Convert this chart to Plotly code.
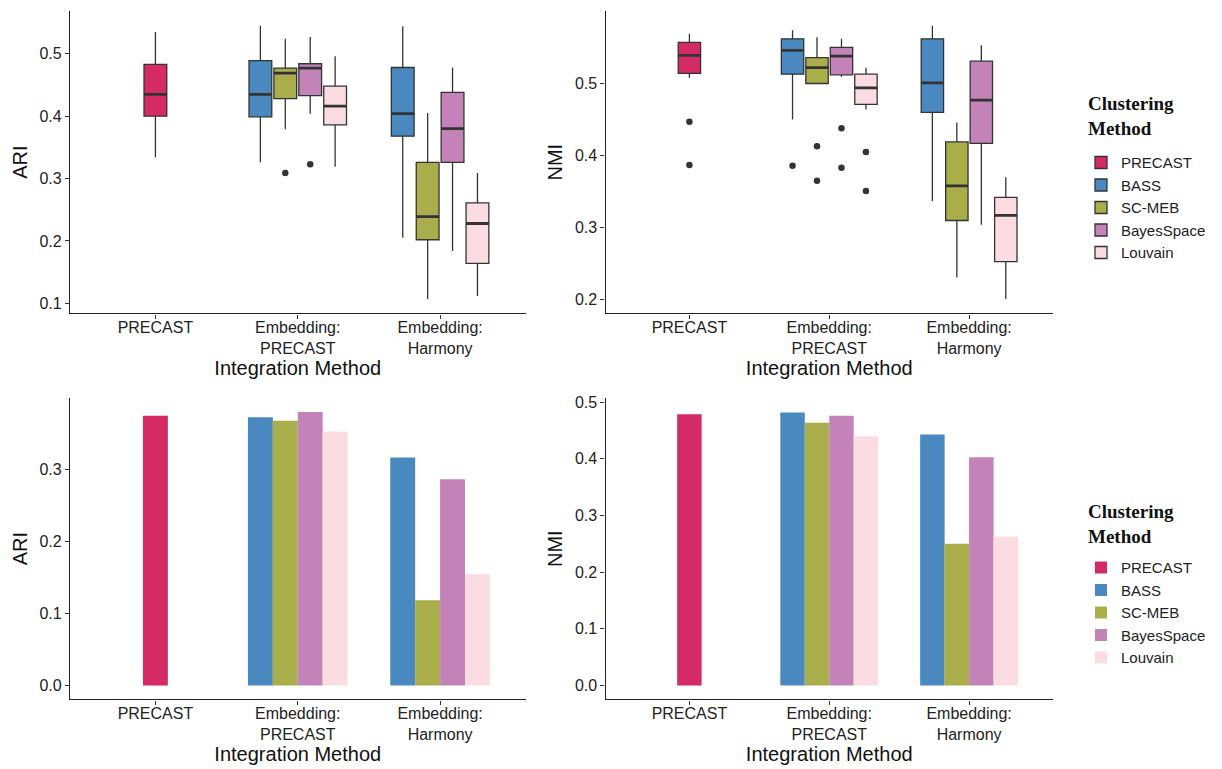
import plotly.graph_objects as go

# Categories on the x axis and the clustering methods
categories = ["PRECAST", "Embedding:<br>PRECAST", "Embedding:<br>Harmony"]
methods = ["PRECAST", "BASS", "SC-MEB", "BayesSpace", "Louvain"]
colors = ["#D42A65", "#4A89BF", "#A9AE4B", "#C383B8", "#FBDDE1"]
dodge = [0.0, -0.2625, -0.0875, 0.0875, 0.2625]

# ARI box statistics per method (one value per category, None = absent)
ari_low = [[0.334, None, None], [None, 0.326, 0.205], [None, 0.379, 0.107],
           [None, 0.404, 0.184], [None, 0.319, 0.112]]
ari_q1 = [[0.400, None, None], [None, 0.399, 0.368], [None, 0.428, 0.202],
          [None, 0.433, 0.326], [None, 0.386, 0.164]]
ari_med = [[0.435, None, None], [None, 0.435, 0.404], [None, 0.469, 0.239],
           [None, 0.477, 0.380], [None, 0.416, 0.228]]
ari_q3 = [[0.483, None, None], [None, 0.489, 0.478], [None, 0.477, 0.326],
          [None, 0.484, 0.438], [None, 0.448, 0.261]]
ari_high = [[0.535, None, None], [None, 0.545, 0.544], [None, 0.524, 0.405],
            [None, 0.527, 0.478], [None, 0.496, 0.309]]
ari_out_method = [2, 3]
ari_out_cat = [1, 1]
ari_out_val = [0.309, 0.323]

# NMI box statistics per method
nmi_low = [[0.508, None, None], [None, 0.450, 0.337], [None, 0.500, 0.231],
           [None, 0.509, 0.304], [None, 0.464, 0.201]]
nmi_q1 = [[0.514, None, None], [None, 0.513, 0.460], [None, 0.500, 0.310],
          [None, 0.512, 0.417], [None, 0.471, 0.253]]
nmi_med = [[0.539, None, None], [None, 0.546, 0.501], [None, 0.522, 0.358],
           [None, 0.538, 0.477], [None, 0.494, 0.317]]
nmi_q3 = [[0.557, None, None], [None, 0.562, 0.562], [None, 0.536, 0.419],
          [None, 0.550, 0.531], [None, 0.513, 0.342]]
nmi_high = [[0.569, None, None], [None, 0.574, 0.580], [None, 0.564, 0.446],
            [None, 0.562, 0.553], [None, 0.522, 0.370]]
nmi_out_method = [0, 0, 1, 2, 2, 3, 3, 4, 4]
nmi_out_cat = [0, 0, 1, 1, 1, 1, 1, 1, 1]
nmi_out_val = [0.447, 0.387, 0.386, 0.413, 0.365, 0.438, 0.383, 0.405, 0.351]

# Mean scores for the bar charts
ari_mean = [[0.374, None, None], [None, 0.372, 0.316], [None, 0.367, 0.118],
            [None, 0.379, 0.286], [None, 0.352, 0.154]]
nmi_mean = [[0.479, None, None], [None, 0.482, 0.443], [None, 0.464, 0.250],
            [None, 0.476, 0.403], [None, 0.440, 0.263]]

legend_title = "Clustering<br>Method"

BOX_W = 0.16
BAR_W = 0.175
DARK = "#333333"

fig = go.Figure()


def add_boxes(low, q1, med, q3, high, om, oc, ov, xa, ya, legend, show):
    for m, name in enumerate(methods):
        idx = [c for c in range(len(categories)) if med[m][c] is not None]
        pos = [c + dodge[m] for c in idx]
        fig.add_trace(go.Box(
            x=pos, q1=[q1[m][c] for c in idx], median=[med[m][c] for c in idx],
            q3=[q3[m][c] for c in idx], lowerfence=[low[m][c] for c in idx],
            upperfence=[high[m][c] for c in idx], width=BOX_W, whiskerwidth=0,
            name=name, fillcolor=colors[m], line=dict(color=DARK, width=1.3),
            boxpoints=False, xaxis=xa, yaxis=ya, legend=legend, showlegend=show,
            legendgroup=name))
    # thick median bars
    mx, my = [], []
    for m in range(len(methods)):
        for c in range(len(categories)):
            if med[m][c] is not None:
                p = c + dodge[m]
                mx += [p - BOX_W / 2, p + BOX_W / 2, None]
                my += [med[m][c], med[m][c], None]
    fig.add_trace(go.Scatter(x=mx, y=my, mode="lines", line=dict(color=DARK, width=2.8),
                             showlegend=False, hoverinfo="skip", xaxis=xa, yaxis=ya))
    fig.add_trace(go.Scatter(x=[c + dodge[m] for m, c in zip(om, oc)], y=ov, mode="markers",
                             marker=dict(color=DARK, size=6.5), showlegend=False,
                             xaxis=xa, yaxis=ya))


def add_bars(vals, xa, ya, legend, show):
    for m, name in enumerate(methods):
        idx = [c for c in range(len(categories)) if vals[m][c] is not None]
        fig.add_trace(go.Bar(
            x=[c + dodge[m] for c in idx], y=[vals[m][c] for c in idx], width=BAR_W,
            name=name, marker=dict(color=colors[m], line=dict(width=0)),
            xaxis=xa, yaxis=ya, legend=legend, showlegend=show))


add_boxes(ari_low, ari_q1, ari_med, ari_q3, ari_high, ari_out_method, ari_out_cat, ari_out_val,
          "x", "y", "legend", True)
add_boxes(nmi_low, nmi_q1, nmi_med, nmi_q3, nmi_high, nmi_out_method, nmi_out_cat, nmi_out_val,
          "x2", "y2", "legend", False)
add_bars(ari_mean, "x3", "y3", "legend2", True)
add_bars(nmi_mean, "x4", "y4", "legend2", False)

W, H = 1222, 769
FONT = "Liberation Sans, Arial, sans-serif"
SERIF = "Liberation Serif, Times New Roman, serif"


def xax(x0, x1, anchor):
    return dict(domain=[x0 / W, x1 / W], range=[-0.6, 2.6], anchor=anchor,
                tickmode="array", tickvals=[0, 1, 2], ticktext=categories,
                showline=True, linecolor="#222", linewidth=1.3, ticks="outside",
                ticklen=4, tickcolor="#333", tickwidth=1.2, showgrid=False, zeroline=False,
                ticklabelstandoff=-5,
                tickfont=dict(family=FONT, size=16, color="#222"),
                title=dict(text="Integration Method", standoff=0,
                           font=dict(family=FONT, size=20, color="#111")))


def yax(top, bottom, rng, ticks, title, anchor):
    return dict(domain=[1 - bottom / H, 1 - top / H], range=rng, anchor=anchor,
                tickmode="array", tickvals=ticks, tickformat=".1f",
                showline=True, linecolor="#222", linewidth=1.3, ticks="outside",
                ticklen=4, tickcolor="#333", tickwidth=1.2, showgrid=False, zeroline=False,
                tickfont=dict(family=FONT, size=16, color="#222"),
                title=dict(text=title, standoff=6,
                           font=dict(family=FONT, size=20, color="#111")))


legend_common = dict(
    xanchor="left", yanchor="top", bgcolor="rgba(0,0,0,0)",
    font=dict(family=FONT, size=15, color="#222"), tracegroupgap=0)

# legend headings
for top in (87, 498):
    fig.add_annotation(text=f"<b>{legend_title}</b>", xref="paper", yref="paper",
                       x=1086 / W, y=1 - top / H, xanchor="left", yanchor="top",
                       align="left", showarrow=False,
                       font=dict(family=SERIF, size=19, color="#111"))

fig.update_layout(
    width=W, height=H, margin=dict(l=0, r=0, t=0, b=0),
    paper_bgcolor="white", plot_bgcolor="white",
    boxmode="overlay", barmode="overlay",
    xaxis=xax(70, 525.5, "y"), yaxis=yax(7, 311, [0.084, 0.5686], [0.1, 0.2, 0.3, 0.4, 0.5], "ARI", "x"),
    xaxis2=xax(605.5, 1053, "y2"), yaxis2=yax(7, 311, [0.1812, 0.6006], [0.2, 0.3, 0.4, 0.5], "NMI", "x2"),
    xaxis3=xax(70, 525.5, "y3"), yaxis3=yax(396, 699, [-0.0193, 0.3986], [0.0, 0.1, 0.2, 0.3], "ARI", "x3"),
    xaxis4=xax(605.5, 1053, "y4"), yaxis4=yax(396, 699, [-0.0245, 0.5076], [0.0, 0.1, 0.2, 0.3, 0.4, 0.5], "NMI", "x4"),
    legend=dict(x=1081 / W, y=1 - 143 / H, **legend_common),
    legend2=dict(x=1081 / W, y=1 - 550 / H, **legend_common),
    showlegend=True,
)

fig.write_html("out.html")
